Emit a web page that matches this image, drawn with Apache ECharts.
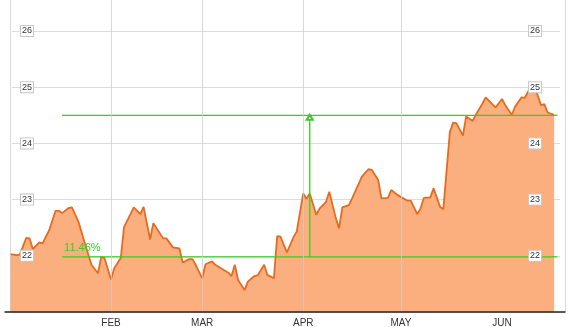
<!DOCTYPE html>
<html>
<head>
<meta charset="utf-8">
<script src="https://cdn.jsdelivr.net/npm/echarts@6/dist/echarts.min.js"></script>
<style>
html,body{margin:0;padding:0;background:#fff;}
#chart{width:574px;height:327px;}
</style>
</head>
<body>
<div id="chart"></div>
<script>
const dates = [
'2013-01-01','2013-01-03','2013-01-04','2013-01-06','2013-01-07','2013-01-08','2013-01-10','2013-01-11','2013-01-13','2013-01-15',
'2013-01-16','2013-01-17','2013-01-19','2013-01-20','2013-01-22','2013-01-24','2013-01-26','2013-01-28','2013-01-29','2013-01-30',
'2013-02-01','2013-02-02','2013-02-04','2013-02-05','2013-02-08','2013-02-10','2013-02-11','2013-02-13','2013-02-14','2013-02-17',
'2013-02-18','2013-02-20','2013-02-22','2013-02-23','2013-02-25','2013-02-26','2013-02-27','2013-03-01','2013-03-02','2013-03-04',
'2013-03-05','2013-03-07','2013-03-09','2013-03-10','2013-03-11','2013-03-12','2013-03-14','2013-03-15','2013-03-17','2013-03-18',
'2013-03-20','2013-03-21','2013-03-23','2013-03-24','2013-03-25','2013-03-27','2013-03-29','2013-03-30','2013-04-01','2013-04-02',
'2013-04-03','2013-04-05','2013-04-06','2013-04-08','2013-04-09','2013-04-11','2013-04-12','2013-04-13','2013-04-15','2013-04-16',
'2013-04-19','2013-04-21','2013-04-22','2013-04-24','2013-04-25','2013-04-27','2013-04-28','2013-04-30','2013-05-03','2013-05-04',
'2013-05-06','2013-05-07','2013-05-08','2013-05-10','2013-05-11','2013-05-13','2013-05-14','2013-05-16','2013-05-17','2013-05-18',
'2013-05-20','2013-05-21','2013-05-23','2013-05-24','2013-05-26','2013-05-27','2013-05-29','2013-05-30','2013-06-01','2013-06-02',
'2013-06-04','2013-06-05','2013-06-07','2013-06-08','2013-06-10','2013-06-11','2013-06-13','2013-06-14','2013-06-15','2013-06-17'
];
const prices = [
22.03,22.01,22.02,22.32,22.31,22.12,22.24,22.22,22.45,22.80,
22.80,22.76,22.85,22.86,22.61,22.22,21.84,21.69,21.98,21.96,
21.58,21.78,21.96,22.51,22.86,22.74,22.87,22.29,22.58,22.31,
22.31,22.15,22.13,21.88,21.94,21.94,21.84,21.60,21.85,21.90,
21.84,21.77,21.70,21.64,21.84,21.57,21.39,21.54,21.64,21.65,
21.84,21.66,21.60,22.35,22.34,22.06,22.33,22.43,23.11,23.01,
23.11,22.73,22.84,22.96,23.14,22.67,22.49,22.86,22.90,23.02,
23.41,23.54,23.53,23.35,23.02,23.03,23.17,23.08,22.98,22.98,
22.74,22.84,23.03,23.04,23.20,22.87,22.83,24.20,24.37,24.36,
24.14,24.48,24.40,24.51,24.71,24.82,24.70,24.64,24.79,24.68,
24.51,24.65,24.82,24.81,25.03,25.01,24.68,24.70,24.55,24.51
];
const monthLabels = ['', 'FEB', 'MAR', 'APR', 'MAY', 'JUN', 'JUL', 'AUG', 'SEP', 'OCT', 'NOV', 'DEC'];
const yTicks = [22, 23, 24, 25, 26];
const axisStart = '2012-12-30 11:17';
const axisEnd = '2013-06-20 08:00';
const rangeLow = 21.98;
const rangeHigh = 24.50;
const rangeStartDate = '2013-01-17';
const rangeEndDate = '2013-06-18';
const changeDate = '2013-04-03';
const changeLabel = '11.46%';

function ts(s){ const p = s.split(/[- :]/).map(Number); return new Date(p[0], p[1]-1, p[2], p[3]||0, p[4]||0).getTime(); }
const seriesData = dates.map((d, i) => [ts(d), prices[i]]);

const GREEN = '#35cf20';
const FONT = 'Liberation Sans, Arial';
const chart = echarts.init(document.getElementById('chart'), null, {renderer: 'canvas'});
const gridTop = 31 - 56.2;
const gridHeight = 312 - gridTop;
const labelBox = {
  inside: true, color: '#333', fontSize: 9, fontFamily: FONT,
  backgroundColor: '#fff', borderColor: '#c8c8c8', borderWidth: 1, padding: [1, 1, 0, 1],
  formatter: function(v){ return yTicks.indexOf(v) >= 0 ? String(v) : ''; },
  showMinLabel: false, showMaxLabel: false
};
const greenSeries = (data, extra) => Object.assign({
  type: 'line', xAxisIndex: 0, yAxisIndex: 0, data: data,
  symbol: 'none', showSymbol: false, silent: true, z: 4,
  lineStyle: {color: GREEN, width: 1.3}, itemStyle: {color: GREEN}
}, extra || {});

chart.setOption({
  animation: false,
  backgroundColor: '#fff',
  grid: [
    {left: 5, right: 9, top: gridTop, height: gridHeight, outerBoundsMode: 'none', containLabel: false},
    {left: 12, right: 14, top: gridTop, height: gridHeight, outerBoundsMode: 'none', containLabel: false}
  ],
  xAxis: [
    {
      type: 'time', gridIndex: 0, min: ts(axisStart), max: ts(axisEnd), z: 5,
      axisLine: {show: true, lineStyle: {color: '#222', width: 1.5}},
      axisTick: {show: false},
      splitLine: {show: true, lineStyle: {color: ['rgba(0,0,0,0)', 'rgba(205,205,205,0.75)', 'rgba(205,205,205,0.75)', 'rgba(205,205,205,0.75)', 'rgba(205,205,205,0.75)', 'rgba(205,205,205,0.75)'], width: 1}},
      axisLabel: {
        color: '#333', fontSize: 10, fontFamily: FONT, margin: 6,
        formatter: function(v){ const d = new Date(v); return d.getDate() === 1 ? monthLabels[d.getMonth()] : ''; }
      }
    },
    {type: 'value', gridIndex: 1, show: false, min: 0, max: 1}
  ],
  yAxis: [
    {type: 'value', gridIndex: 0, min: 21, max: 27, interval: 1, show: false, splitLine: {show: false}},
    {
      type: 'value', gridIndex: 1, position: 'left', min: 21, max: 27, interval: 1, z: 0,
      axisLine: {show: false}, axisTick: {show: false}, axisLabel: {show: false},
      splitLine: {show: true, lineStyle: {color: '#dcdcdc', width: 1}}
    },
    {
      type: 'value', gridIndex: 1, position: 'left', min: 21, max: 27, interval: 1, z: 10,
      axisLine: {show: false}, axisTick: {show: false}, splitLine: {show: false},
      axisLabel: Object.assign({margin: 9}, labelBox)
    },
    {
      type: 'value', gridIndex: 1, position: 'right', min: 21, max: 27, interval: 1, z: 10,
      axisLine: {show: false}, axisTick: {show: false}, splitLine: {show: false},
      axisLabel: Object.assign({margin: 19}, labelBox)
    }
  ],
  series: [
    {
      type: 'line', xAxisIndex: 0, yAxisIndex: 0,
      data: seriesData, showSymbol: false, symbol: 'none',
      lineStyle: {color: '#e96a1e', width: 1.8},
      areaStyle: {color: '#fcaf7e', opacity: 1},
      z: 3
    },
    greenSeries([[ts(rangeStartDate), rangeHigh], [ts(rangeEndDate), rangeHigh]]),
    greenSeries([
      {value: [ts(rangeStartDate), rangeLow], symbol: 'circle', symbolSize: 0,
       label: {show: true, position: 'top', align: 'left', distance: 3, offset: [2, 0], formatter: changeLabel, color: GREEN, fontSize: 11, fontFamily: FONT}},
      {value: [ts(rangeEndDate), rangeLow], symbol: 'none'}
    ], {showSymbol: true, symbol: 'none'}),
    greenSeries([
      {value: [ts(changeDate), rangeLow], symbol: 'none'},
      {value: [ts(changeDate), rangeHigh], symbol: 'emptyTriangle', symbolSize: [6, 5], symbolOffset: [0, 2]}
    ], {showSymbol: true, symbol: 'none'})
  ]
});
</script>
</body>
</html>
